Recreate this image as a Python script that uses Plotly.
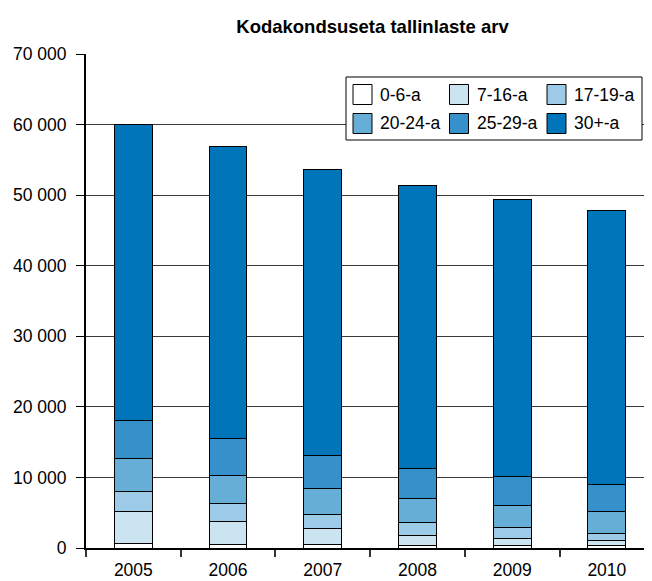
import plotly.graph_objects as go

years = ["2005", "2006", "2007", "2008", "2009", "2010"]
series_names = ["0-6-a", "7-16-a", "17-19-a", "20-24-a", "25-29-a", "30+-a"]
v_0_6 = [640, 540, 450, 310, 310, 310]
v_7_16 = [4490, 3260, 2310, 1500, 1080, 750]
v_17_19 = [2830, 2460, 1980, 1840, 1470, 1040]
v_20_24 = [4670, 4050, 3640, 3360, 3200, 3110]
v_25_29 = [5470, 5200, 4760, 4290, 4110, 3740]
v_30_plus = [41900, 41360, 40510, 40090, 39240, 38900]
colors = ["#FFFFFF", "#CCE3F2", "#9CCAE7", "#67AED6", "#3691CA", "#0075BA"]

values = [v_0_6, v_7_16, v_17_19, v_20_24, v_25_29, v_30_plus]

FONT = "Liberation Sans, Arial, sans-serif"
W, H = 644, 573
ML, MR, MT, MB = 78, 0, 46, 33
PW, PH = W - ML - MR, H - MT - MB


def fx(px):
    return (px - ML) / PW


def fy(py):
    return 1 - (py - MT) / PH


fig = go.Figure()
for name, vals, col in zip(series_names, values, colors):
    fig.add_trace(go.Bar(
        x=years, y=vals, name=name,
        marker=dict(color=col, line=dict(color="black", width=1)),
        width=0.4, showlegend=False,
    ))

# manual legend (3 columns x 2 rows) with larger swatches
shapes = [dict(type="rect", xref="paper", yref="paper",
               x0=fx(338), x1=fx(634), y0=fy(69), y1=fy(132),
               fillcolor="white", line=dict(color="black", width=1), layer="above")]
annotations = []
col_x = [345, 441.5, 539]
row_y = [86.5, 115.5]
for i, (name, col) in enumerate(zip(series_names, colors)):
    cx = col_x[i % 3]
    cy = row_y[i // 3]
    shapes.append(dict(type="rect", xref="paper", yref="paper",
                       x0=fx(cx), x1=fx(cx + 19), y0=fy(cy - 10), y1=fy(cy + 10),
                       fillcolor=col, line=dict(color="black", width=1), layer="above"))
    annotations.append(dict(text=name, xref="paper", yref="paper",
                            x=fx(cx + 25), y=fy(cy), xanchor="left", yanchor="middle",
                            showarrow=False, font=dict(family=FONT, size=17.5, color="black")))

fig.update_layout(
    width=W, height=H,
    barmode="stack",
    plot_bgcolor="white", paper_bgcolor="white",
    margin=dict(l=ML, r=MR, t=MT, b=MB, autoexpand=False),
    separators=", ",
    font=dict(family=FONT, size=17.5, color="black"),
    title=dict(text="<b>Kodakondsuseta tallinlaste arv</b>", x=364.5 / W, xanchor="center",
               y=1 - 19 / H, yanchor="middle", font=dict(family=FONT, size=18.5, color="black")),
    showlegend=False,
    shapes=shapes,
    annotations=annotations,
)
fig.update_xaxes(
    type="category", range=[-0.5, -0.5 + PW / 94.7], automargin=False,
    showline=True, linecolor="black", linewidth=1.5,
    ticks="outside", tickson="boundaries", ticklen=7, tickcolor="#333", tickwidth=2,
    ticklabelstandoff=5,
    showgrid=False, tickfont=dict(family=FONT, size=17.5, color="black"),
)
fig.update_yaxes(
    range=[0, 70000], dtick=10000, tickformat=",d", automargin=False,
    showline=True, linecolor="black", linewidth=2,
    ticks="outside", ticklen=8, tickcolor="black", tickwidth=1,
    ticklabelstandoff=6,
    showgrid=True, gridcolor="#3a3a3a", gridwidth=1, zeroline=False,
    tickfont=dict(family=FONT, size=17.5, color="black"),
)

fig.write_html("out.html")
